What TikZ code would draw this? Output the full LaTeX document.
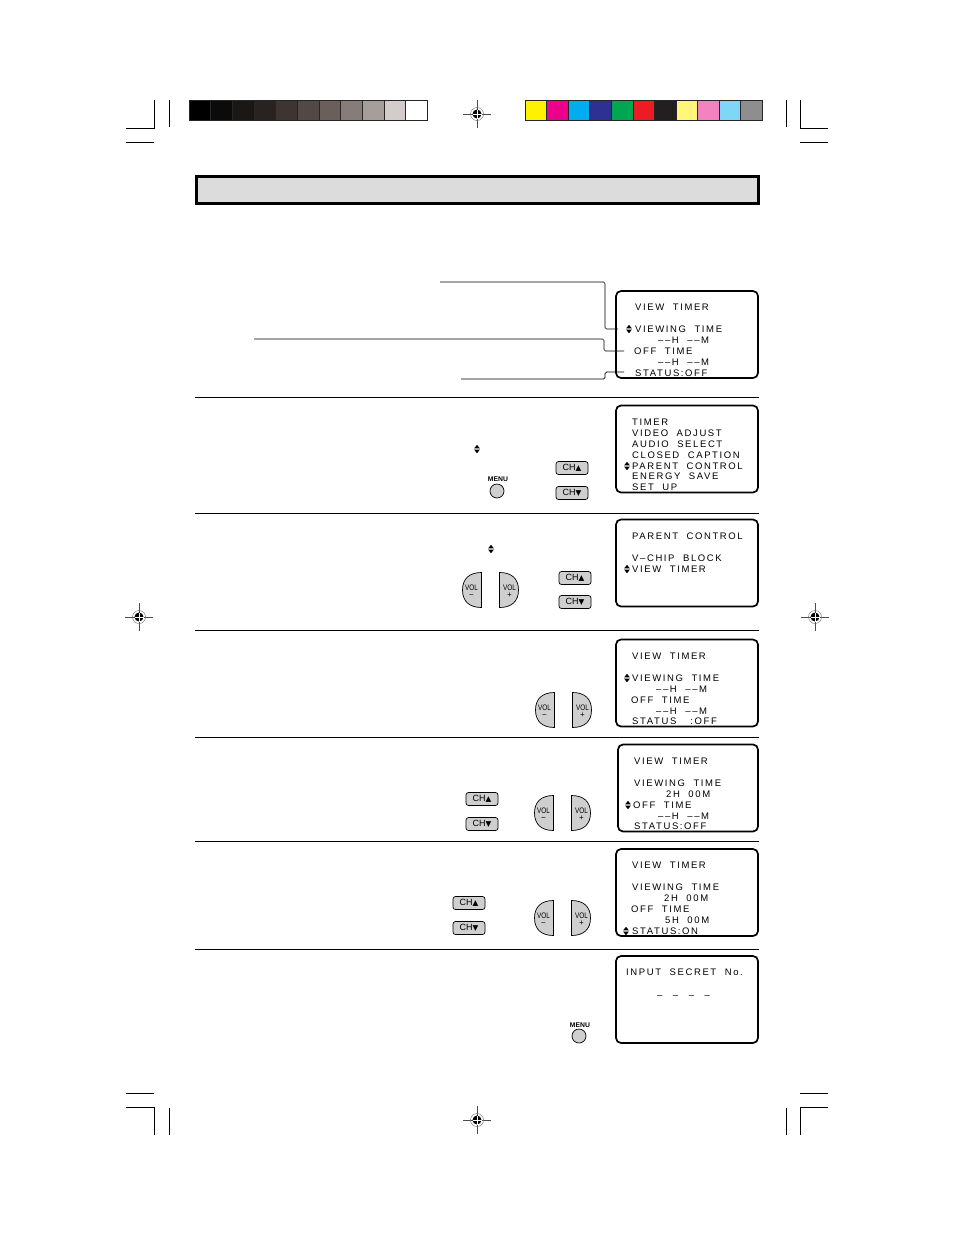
\documentclass[tikz,border=0pt]{standalone}
\usepackage{fontspec}
\setmainfont{Liberation Sans}
\newfontfamily\scr[LetterSpace=17,WordSpace=2]{Liberation Sans}
\newfontfamily\dv{DejaVu Sans}
\definecolor{btngray}{HTML}{CFCFCF}
\definecolor{titlegray}{HTML}{DCDCDC}
\begin{document}
\begin{tikzpicture}[x=1pt,y=-1pt,
  scrbox/.style={draw, line width=1.7pt, rounded corners=5pt, minimum width=142pt, minimum height=87pt, inner sep=0},
  scrtxt/.style={anchor=base west, inner sep=0, font=\scr\fontsize{9.5}{11}\selectfont},
  sepline/.style={line width=0.8pt},
  leader/.style={line width=0.7pt, rounded corners=1.5pt},
  chbtn/.style={draw, line width=0.7pt, fill=btngray, rounded corners=2.5pt, minimum width=32pt, minimum height=13pt, inner sep=0, font=\fontsize{9}{9}\selectfont},
  menubtn/.style={circle, draw, line width=0.7pt, fill=btngray, minimum size=14pt, inner sep=0},
  menulbl/.style={inner sep=0, font=\bfseries\fontsize{6.8}{7}\selectfont},
  voltxt/.style={inner sep=0, align=center, font=\fontsize{8}{6.5}\selectfont},
  crop/.style={line width=0.7pt},
  updown/.pic={\fill (-2.8,-0.7) -- (2.8,-0.7) -- (0,-4.2) -- cycle; \fill (-2.8,0.7) -- (2.8,0.7) -- (0,4.2) -- cycle;},
  volm/.pic={\filldraw[fill=btngray,line width=0.7pt] (9.5,-17.5) .. controls (-3,-17.5) and (-9.5,-11) .. (-9.5,0) .. controls (-9.5,11) and (-3,17.5) .. (9.5,17.5) -- cycle; \node[voltxt] (-t) at (-0.5,1) {\scalebox{0.8}[1]{VOL}\\−};},
  volp/.pic={\filldraw[fill=btngray,line width=0.7pt] (-9.5,-17.5) .. controls (3,-17.5) and (9.5,-11) .. (9.5,0) .. controls (9.5,11) and (3,17.5) .. (-9.5,17.5) -- cycle; \node[voltxt] (-t) at (0.5,1) {\scalebox{0.8}[1]{VOL}\\+};},
  regmark/.pic={\draw[line width=0.6pt, black!70] (-14,0) -- (14,0) (0,-14) -- (0,14); \draw[line width=0.4pt, black!60] (0,0) circle (6.5); \fill (0,0) circle (4.5); \draw[white, line width=0.8pt] (-4.5,0) -- (4.5,0) (0,-4.5) -- (0,4.5);}
]
\useasboundingbox (0,0) rectangle (954,1235);
\fill[white] (0,0) rectangle (954,1235);

% colour strips
\foreach \c [count=\i from 0] in {000000,0D0B0A,1B1715,282220,3E3432,524846,6B5F5B,877C78,A69E9B,D4CBCB,FFFFFF}{
  \definecolor{tmpc}{HTML}{\c}
  \filldraw[fill=tmpc, draw=black!85, line width=0.5pt] ({189+\i*21.64},100) rectangle ({189+(\i+1)*21.64},120.5);
}
\foreach \c [count=\i from 0] in {FFF200,EC008C,00AEEF,2E3192,00A651,ED1C24,231F20,FFF67A,F382C0,7FD7F7,8E8E8E}{
  \definecolor{tmpc}{HTML}{\c}
  \filldraw[fill=tmpc, draw=black!85, line width=0.5pt] ({525+\i*21.55},100) rectangle ({525+(\i+1)*21.55},120.5);
}

% crop marks
\draw[crop] (154,100) -- (154,128) -- (126,128);
\draw[crop] (169,100) -- (169,127);
\draw[crop] (126,142) -- (154,142);
\draw[crop] (800,100) -- (800,128) -- (828,128);
\draw[crop] (786.5,100) -- (786.5,127);
\draw[crop] (800,142) -- (828,142);
\draw[crop] (126,1093) -- (154,1093);
\draw[crop] (126,1107) -- (154,1107) -- (154,1135);
\draw[crop] (169,1108) -- (169,1135);
\draw[crop] (800,1093) -- (828,1093);
\draw[crop] (828,1107) -- (800,1107) -- (800,1135);
\draw[crop] (786.5,1108) -- (786.5,1135);

% registration marks
\pic at (477,114) {regmark};
\pic at (477,1120) {regmark};
\pic at (139,617) {regmark};
\pic at (815,617) {regmark};

% title bar
\filldraw[fill=titlegray, line width=3pt] (196.5,176.5) rectangle (758.5,203.5);

% separators
\foreach \y in {397,513,630,737,841,949}{\draw[sepline] (195,\y) -- (759,\y);}

% ---------- section 1
\node[scrbox] (sc1) at (687,334.5) {};
\node[scrtxt] (s1a) at (635,310.5) {VIEW TIMER};
\pic at (629,329) {updown};
\node[scrtxt] (s1b) at (635,332.5) {VIEWING TIME};
\node[scrtxt] (s1c) at (658,343.5) {––H ––M};
\node[scrtxt] (s1d) at (634,354.5) {OFF TIME};
\node[scrtxt] (s1e) at (658,365.5) {––H ––M};
\node[scrtxt] (s1f) at (635,376) {STATUS:OFF};
\coordinate (l1a) at (440,282); \coordinate (l1k) at (605,329); \coordinate (l1b) at (618,329);
\coordinate (l2a) at (254,339); \coordinate (l2k) at (604,351); \coordinate (l2b) at (624,351);
\coordinate (l3a) at (461,379); \coordinate (l3k) at (605,372); \coordinate (l3b) at (624,372);
\draw[leader] (l1a) -| (l1k) -- (l1b);
\draw[leader] (l2a) -| (l2k) -- (l2b);
\draw[leader] (l3a) -| (l3k) -- (l3b);

% ---------- section 2
\node[scrbox] (sc2) at (687,449) {};
\node[scrtxt] (s2a) at (632,425.5) {TIMER};
\node[scrtxt] (s2b) at (632,436.5) {VIDEO ADJUST};
\node[scrtxt] (s2c) at (632,447.5) {AUDIO SELECT};
\node[scrtxt] (s2d) at (632,458.5) {CLOSED CAPTION};
\pic at (627,466) {updown};
\node[scrtxt] (s2e) at (632,469.5) {PARENT CONTROL};
\node[scrtxt] (s2f) at (632,479.5) {ENERGY SAVE};
\node[scrtxt] (s2g) at (632,490.5) {SET UP};
\pic at (477,449) {updown};
\node[menulbl] (m2l) at (498,479) {MENU};
\node[menubtn] (m2) at (497,491) {};
\node[chbtn] (c2u) at (572,468) {CH{\dv\fontsize{7.5}{7}\selectfont ▲}};
\node[chbtn] (c2d) at (572,493) {CH{\dv\fontsize{7.5}{7}\selectfont ▼}};

% ---------- section 3
\node[scrbox] (sc3) at (687,563) {};
\node[scrtxt] (s3a) at (632,539.5) {PARENT CONTROL};
\node[scrtxt] (s3b) at (632,561.5) {V–CHIP BLOCK};
\pic at (627,569) {updown};
\node[scrtxt] (s3c) at (632,572.5) {VIEW TIMER};
\pic at (491,549) {updown};
\pic (v3m) at (472,590) {volm};
\pic (v3p) at (509,590) {volp};
\node[chbtn] (c3u) at (575,578) {CH{\dv\fontsize{7.5}{7}\selectfont ▲}};
\node[chbtn] (c3d) at (575,602) {CH{\dv\fontsize{7.5}{7}\selectfont ▼}};

% ---------- section 4
\node[scrbox] (sc4) at (687,683) {};
\node[scrtxt] (s4a) at (632,659.5) {VIEW TIMER};
\pic at (627,678) {updown};
\node[scrtxt] (s4b) at (632,681.5) {VIEWING TIME};
\node[scrtxt] (s4c) at (656,692.5) {––H ––M};
\node[scrtxt] (s4d) at (631,703.5) {OFF TIME};
\node[scrtxt] (s4e) at (656,714.5) {––H ––M};
\node[scrtxt] (s4f) at (632,724.5) {STATUS\hspace{14pt}:OFF};
\pic (v4m) at (545,710) {volm};
\pic (v4p) at (582,710) {volp};

% ---------- section 5
\node[scrbox, minimum width=140pt] (sc5) at (688,788) {};
\node[scrtxt] (s5a) at (634,764.5) {VIEW TIMER};
\node[scrtxt] (s5b) at (634,786.5) {VIEWING TIME};
\node[scrtxt] (s5c) at (666,797.5) {2H 00M};
\pic at (628,805) {updown};
\node[scrtxt] (s5d) at (633,808.5) {OFF TIME};
\node[scrtxt] (s5e) at (658,819.5) {––H ––M};
\node[scrtxt] (s5f) at (634,829.5) {STATUS:OFF};
\node[chbtn] (c5u) at (482,799) {CH{\dv\fontsize{7.5}{7}\selectfont ▲}};
\node[chbtn] (c5d) at (482,824) {CH{\dv\fontsize{7.5}{7}\selectfont ▼}};
\pic (v5m) at (544,813) {volm};
\pic (v5p) at (581,813) {volp};

% ---------- section 6
\node[scrbox] (sc6) at (687,892.5) {};
\node[scrtxt] (s6a) at (632,868.5) {VIEW TIMER};
\node[scrtxt] (s6b) at (632,890.5) {VIEWING TIME};
\node[scrtxt] (s6c) at (664,901.5) {2H 00M};
\node[scrtxt] (s6d) at (631,912.5) {OFF TIME};
\node[scrtxt] (s6e) at (665,923.5) {5H 00M};
\pic at (626,931) {updown};
\node[scrtxt] (s6f) at (632,934.5) {STATUS:ON};
\node[chbtn] (c6u) at (469,903) {CH{\dv\fontsize{7.5}{7}\selectfont ▲}};
\node[chbtn] (c6d) at (469,928) {CH{\dv\fontsize{7.5}{7}\selectfont ▼}};
\pic (v6m) at (544,918) {volm};
\pic (v6p) at (581,918) {volp};

% ---------- section 7
\node[scrbox] (sc7) at (687,999.5) {};
\node[scrtxt] (s7a) at (626,975.5) {INPUT SECRET No.};
\node[scrtxt] (s7b) at (657,998) {–\hspace{10.5pt}–\hspace{10.5pt}–\hspace{10.5pt}–};
\node[menulbl] (m7l) at (580,1025) {MENU};
\node[menubtn] (m7) at (579,1036) {};
\end{tikzpicture}
\end{document}
